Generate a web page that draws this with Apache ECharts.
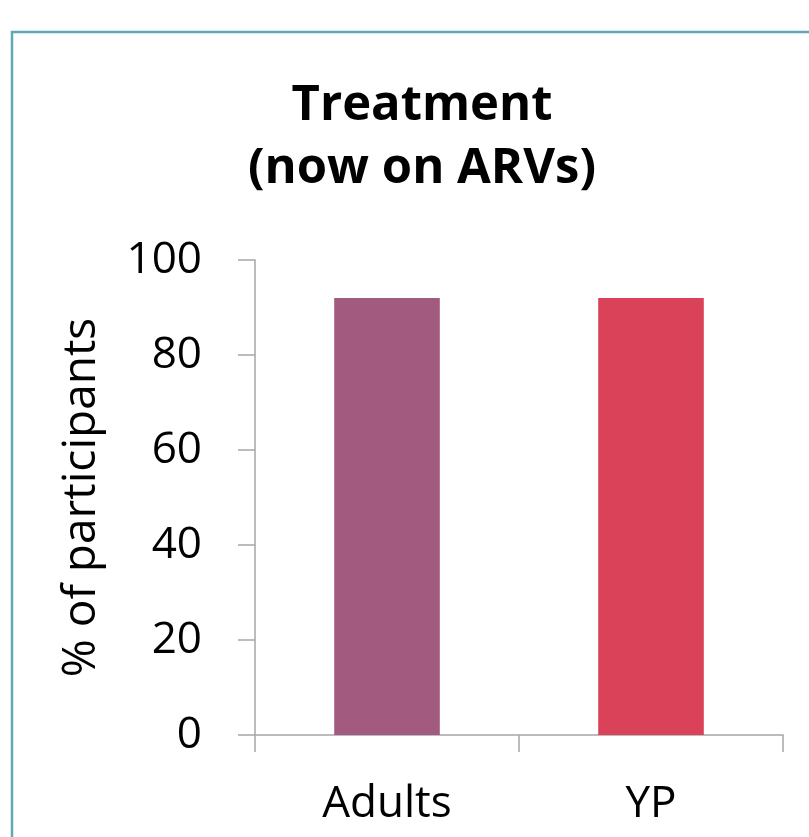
<!DOCTYPE html>
<html>
<head>
<meta charset="utf-8">
<script src="https://cdn.jsdelivr.net/npm/echarts@6/dist/echarts.min.js"></script>
<style>
  html, body { margin: 0; padding: 0; background: #fff; }
  #main { width: 809px; height: 837px; }
</style>
</head>
<body>
<div id="main"></div>
<script>
var categories = ['Adults', 'YP'];
var values = [92, 92];
var barColors = ['#A25A7E', '#DA4259'];
var yTicks = [0, 20, 40, 60, 80, 100];

var chartDom = document.getElementById('main');
var myChart = echarts.init(chartDom);
var font = '"Open Sans", "Noto Sans", sans-serif';

var option = {
    animation: false,
    backgroundColor: '#fff',
    graphic: [
        {
            type: 'rect',
            shape: { x: 12, y: 32, width: 820, height: 900 },
            style: { fill: 'none', stroke: '#5FA9B6', lineWidth: 2.5 }
        }
    ],
    title: {
        text: 'Treatment\n(now on ARVs)',
        left: 417,
        top: 70,
        textAlign: 'center',
        textStyle: {
            fontFamily: font,
            fontSize: 49,
            fontWeight: 'bold',
            color: '#000',
            lineHeight: 63
        }
    },
    grid: { left: 255, right: 26, top: 260, bottom: 102 },
    xAxis: {
        type: 'category',
        data: categories,
        axisLine: { lineStyle: { color: '#A6A6A6', width: 1.5 } },
        axisTick: { show: true, length: 17, lineStyle: { color: '#A6A6A6', width: 1.5 } },
        axisLabel: {
            fontFamily: font,
            fontSize: 44,
            color: '#000',
            margin: 47
        }
    },
    yAxis: {
        type: 'value',
        min: yTicks[0],
        max: yTicks[yTicks.length - 1],
        interval: 20,
        name: '% of participants',
        nameLocation: 'middle',
        nameGap: 150,
        nameTextStyle: { fontFamily: font, fontSize: 46, color: '#000' },
        axisLine: { show: true, lineStyle: { color: '#A6A6A6', width: 1.5 } },
        axisTick: { show: true, length: 17, lineStyle: { color: '#A6A6A6', width: 1.5 } },
        splitLine: { show: false },
        axisLabel: {
            fontFamily: font,
            fontSize: 44,
            color: '#000',
            margin: 53
        }
    },
    series: [
        {
            type: 'bar',
            barWidth: '40%',
            data: values.map(function (v, i) {
                return { value: v, itemStyle: { color: barColors[i] } };
            })
        }
    ]
};

myChart.setOption(option);
</script>
</body>
</html>
